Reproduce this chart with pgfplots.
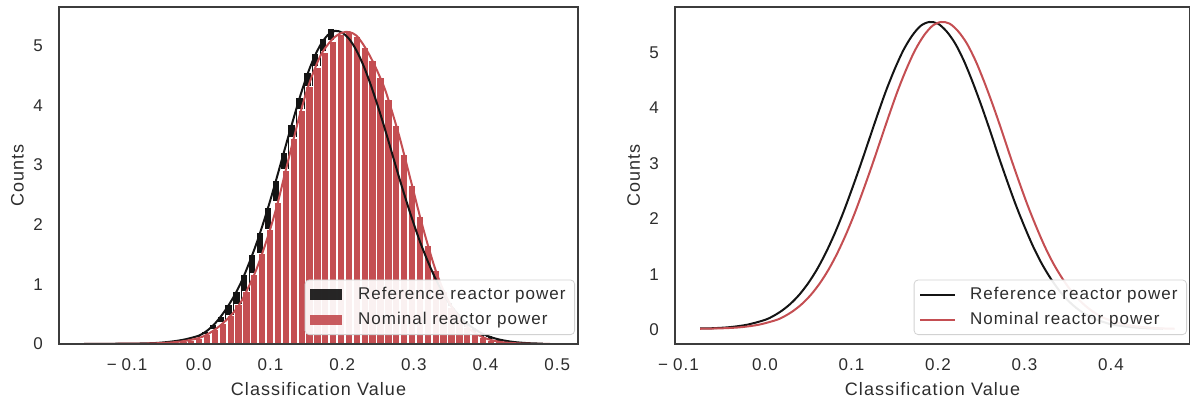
\documentclass[border=0pt]{standalone}
\usepackage{pgfplots}
\pgfplotsset{compat=1.18}
\usepackage{fontspec}
\setmainfont{Liberation Sans}[LetterSpace=6]
\definecolor{nred}{RGB}{196,78,82}
\definecolor{rblack}{RGB}{20,20,20}
\definecolor{framec}{RGB}{60,60,60}
\definecolor{txt}{RGB}{45,45,45}
\definecolor{legframe}{RGB}{210,210,210}
\pgfplotsset{
  mystyle/.style={
    scale only axis, axis on top,
    axis line style={draw=framec, line width=1pt},
    tick style={draw=none},
    xticklabel style={anchor=center, yshift=-10.5pt, font=\fontsize{8.5}{10}\selectfont, text=txt},
    yticklabel style={anchor=center, xshift=-10.5pt, font=\fontsize{8.5}{10}\selectfont, text=txt},
    xlabel style={at={(axis description cs:0.5,-0.134)}, anchor=center, font=\fontsize{9}{11}\selectfont, text=txt},
    ylabel style={at={(axis description cs:-0.08,0.5)}, anchor=center, font=\fontsize{9}{11}\selectfont, text=txt},
    legend style={draw=legframe, rounded corners=2pt, fill=white, fill opacity=0.92, text opacity=1,
      font=\fontsize{8.5}{10}\selectfont, text=txt, at={(1,0)}, anchor=south east,
      xshift=-1.5pt, yshift=4.5pt, inner xsep=2.5pt, inner ysep=1.5pt, row sep=1pt},
    legend cell align=left,
    ytick={0,1,2,3,4,5}, yticklabels={0,1,2,3,4,5},
    xlabel={Classification Value}, ylabel={Counts},
  }
}
\begin{document}
\begin{tikzpicture}
\begin{axis}[mystyle, at={(29.5pt,30pt)}, anchor=south west,
  width=259.5pt, height=168.5pt,
  xmin=-0.195, xmax=0.529, ymin=0, ymax=5.65,
  xtick={-0.1,0,0.1,0.2,0.3,0.4,0.5},
  xticklabels={−\hspace{2.5pt}0.1,0.0,0.1,0.2,0.3,0.4,0.5}]
\addlegendimage{legend image code/.code={\fill[draw=none, fill=rblack, sharp corners] (0pt,-2.6pt) rectangle (16pt,2.6pt); \path[draw=none, fill=none] (0pt,0pt) -- (22pt,0pt);}}
\addlegendentry{Reference reactor power}
\addlegendimage{legend image code/.code={\fill[draw=none, fill=nred, sharp corners] (0pt,-2.6pt) rectangle (16pt,2.6pt); \path[draw=none, fill=none] (0pt,0pt) -- (22pt,0pt);}}
\addlegendentry{Nominal reactor power}
% reference histogram
\addplot[forget plot, ybar interval, fill=rblack, draw=white, line width=0.8pt] coordinates {
(-0.173,0.000)(-0.162,0.001)(-0.151,0.001)(-0.140,0.001)(-0.129,0.002)(-0.118,0.002)
(-0.107,0.003)(-0.096,0.005)(-0.085,0.007)(-0.074,0.010)(-0.063,0.016)(-0.052,0.025)
(-0.041,0.04)(-0.030,0.06)(-0.019,0.09)(-0.008,0.14)(0.003,0.22)(0.014,0.33)
(0.025,0.47)(0.036,0.66)(0.047,0.89)(0.058,1.17)(0.069,1.50)(0.080,1.88)
(0.091,2.30)(0.102,2.75)(0.113,3.22)(0.124,3.69)(0.135,4.14)(0.146,4.55)
(0.157,4.88)(0.168,5.12)(0.179,5.30)(0.190,5.18)(0.201,5.15)(0.212,4.97)
(0.223,4.70)(0.234,4.37)(0.245,4.00)(0.256,3.60)(0.267,3.18)(0.278,2.75)
(0.289,2.34)(0.300,1.95)(0.311,1.60)(0.322,1.20)(0.333,0.92)(0.344,0.70)
(0.355,0.52)(0.366,0.39)(0.377,0.28)(0.388,0.20)(0.399,0.14)(0.410,0.10)
(0.421,0.07)(0.432,0.045)(0.443,0.03)(0.454,0.018)(0.465,0.010)(0.476,0)};
% nominal histogram
\addplot[forget plot, ybar interval, fill=nred, draw=white, line width=0.8pt] coordinates {
(-0.170,0.000)(-0.159,0.001)(-0.148,0.001)(-0.137,0.001)(-0.126,0.002)(-0.115,0.002)
(-0.104,0.003)(-0.093,0.004)(-0.082,0.005)(-0.071,0.007)(-0.060,0.010)(-0.049,0.016)
(-0.038,0.025)(-0.027,0.040)(-0.016,0.065)(-0.005,0.10)(0.006,0.16)(0.017,0.24)
(0.028,0.35)(0.039,0.48)(0.050,0.66)(0.061,0.88)(0.072,1.17)(0.083,1.52)
(0.094,1.92)(0.105,2.38)(0.116,2.92)(0.127,3.45)(0.138,3.92)(0.149,4.32)
(0.160,4.64)(0.171,4.90)(0.182,5.08)(0.193,5.20)(0.204,5.23)(0.215,5.16)
(0.226,4.98)(0.237,4.75)(0.248,4.47)(0.259,4.10)(0.270,3.67)(0.281,3.18)
(0.292,2.66)(0.303,2.14)(0.314,1.66)(0.325,1.23)(0.336,0.88)(0.347,0.62)
(0.358,0.42)(0.369,0.28)(0.380,0.18)(0.391,0.11)(0.402,0.07)(0.413,0.04)
(0.424,0.025)(0.435,0.015)(0.446,0.009)(0.457,0.005)(0.468,0.003)(0.479,0.002)(0.490,0)};
% reference KDE
\addplot[forget plot, smooth, rblack, line width=1pt] coordinates {
(-0.16,0.002)(-0.14,0.003)(-0.12,0.004)(-0.10,0.006)(-0.08,0.009)(-0.06,0.017)(-0.04,0.038)
(-0.02,0.075)(0.00,0.14)(0.01,0.21)(0.02,0.31)(0.03,0.45)(0.04,0.62)(0.05,0.82)(0.06,1.06)
(0.07,1.35)(0.08,1.67)(0.09,2.03)(0.10,2.42)(0.11,2.84)(0.12,3.27)(0.13,3.69)(0.14,4.10)
(0.15,4.47)(0.16,4.78)(0.17,5.02)(0.18,5.18)(0.19,5.25)(0.20,5.22)(0.21,5.11)(0.22,4.92)
(0.23,4.66)(0.24,4.34)(0.25,3.98)(0.26,3.59)(0.27,3.18)(0.28,2.77)(0.29,2.38)(0.30,2.01)
(0.31,1.67)(0.32,1.37)(0.33,1.10)(0.34,0.87)(0.35,0.67)(0.36,0.52)(0.37,0.39)(0.38,0.29)
(0.39,0.21)(0.40,0.15)(0.41,0.105)(0.42,0.073)(0.43,0.05)(0.44,0.033)(0.45,0.022)(0.46,0.014)(0.48,0.005)};
% nominal KDE
\addplot[forget plot, smooth, nred, line width=1pt] coordinates {
(-0.16,0.002)(-0.14,0.003)(-0.12,0.004)(-0.10,0.005)(-0.08,0.007)(-0.06,0.012)(-0.04,0.025)
(-0.02,0.05)(0.00,0.10)(0.01,0.15)(0.02,0.22)(0.03,0.31)(0.04,0.42)(0.05,0.55)(0.06,0.73)
(0.07,0.97)(0.08,1.24)(0.09,1.57)(0.10,1.94)(0.11,2.36)(0.12,2.85)(0.13,3.33)(0.14,3.80)
(0.15,4.22)(0.16,4.56)(0.17,4.84)(0.18,5.02)(0.19,5.15)(0.20,5.22)(0.21,5.23)(0.22,5.17)
(0.23,5.01)(0.24,4.80)(0.25,4.55)(0.26,4.26)(0.27,3.88)(0.28,3.47)(0.29,3.01)(0.30,2.54)
(0.31,2.07)(0.32,1.64)(0.33,1.25)(0.34,0.93)(0.35,0.68)(0.36,0.49)(0.37,0.34)(0.38,0.23)
(0.39,0.15)(0.40,0.095)(0.41,0.06)(0.42,0.037)(0.43,0.022)(0.45,0.008)(0.47,0.003)(0.49,0.001)};
\end{axis}

\begin{axis}[mystyle, at={(337.5pt,30pt)}, anchor=south west,
  width=257.5pt, height=168.5pt,
  xmin=-0.104, xmax=0.4914, ymin=-0.26, ymax=5.82,
  xtick={-0.1,0,0.1,0.2,0.3,0.4},
  xticklabels={−\hspace{2.5pt}0.1,0.0,0.1,0.2,0.3,0.4}]
\addlegendimage{legend image code/.code={\draw[draw=rblack, line width=1pt] (0pt,0pt) -- (17.5pt,0pt); \path[draw=none, fill=none] (0pt,0pt) -- (23pt,0pt);}}
\addlegendentry{Reference reactor power}
\addlegendimage{legend image code/.code={\draw[draw=nred, line width=1pt] (0pt,0pt) -- (17.5pt,0pt); \path[draw=none, fill=none] (0pt,0pt) -- (23pt,0pt);}}
\addlegendentry{Nominal reactor power}
\addplot[forget plot, smooth, rblack, line width=1pt] coordinates {
(-0.075,0.02)(-0.06,0.025)(-0.04,0.045)(-0.02,0.09)(0.00,0.175)(0.01,0.248)(0.02,0.346)
(0.03,0.473)(0.04,0.635)(0.05,0.837)(0.06,1.082)(0.07,1.374)(0.08,1.711)(0.09,2.09)(0.10,2.51)
(0.11,2.95)(0.12,3.41)(0.13,3.87)(0.14,4.31)(0.15,4.70)(0.16,5.04)(0.17,5.30)(0.18,5.48)
(0.19,5.55)(0.20,5.52)(0.21,5.38)(0.22,5.16)(0.23,4.85)(0.24,4.47)(0.25,4.05)(0.26,3.60)
(0.27,3.13)(0.28,2.68)(0.29,2.25)(0.30,1.86)(0.31,1.50)(0.32,1.19)(0.33,0.93)(0.34,0.71)
(0.35,0.53)(0.36,0.39)(0.37,0.28)(0.38,0.20)(0.40,0.096)(0.42,0.05)(0.44,0.025)(0.46,0.015)};
\addplot[forget plot, smooth, nred, line width=1pt] coordinates {
(-0.075,0.015)(-0.0465,0.025)(-0.0265,0.045)(-0.0065,0.09)(0.0135,0.175)(0.0235,0.248)
(0.0335,0.346)(0.0435,0.473)(0.0535,0.635)(0.0635,0.837)(0.0735,1.082)(0.0835,1.374)
(0.0935,1.711)(0.1035,2.09)(0.1135,2.51)(0.1235,2.95)(0.1335,3.41)(0.1435,3.87)(0.1535,4.31)
(0.1635,4.70)(0.1735,5.04)(0.1835,5.30)(0.1935,5.48)(0.2035,5.55)(0.2135,5.52)(0.2235,5.38)
(0.2335,5.16)(0.2435,4.85)(0.2535,4.47)(0.2635,4.05)(0.2735,3.60)(0.2835,3.13)(0.2935,2.68)
(0.3035,2.25)(0.3135,1.86)(0.3235,1.50)(0.3335,1.19)(0.3435,0.93)(0.3535,0.71)(0.3635,0.53)
(0.3735,0.39)(0.3835,0.28)(0.3935,0.20)(0.4135,0.096)(0.4335,0.05)(0.4535,0.025)(0.4735,0.015)};
\end{axis}
\pgfresetboundingbox
\useasboundingbox (0,0) rectangle (595pt,202pt);
\end{tikzpicture}
\end{document}
